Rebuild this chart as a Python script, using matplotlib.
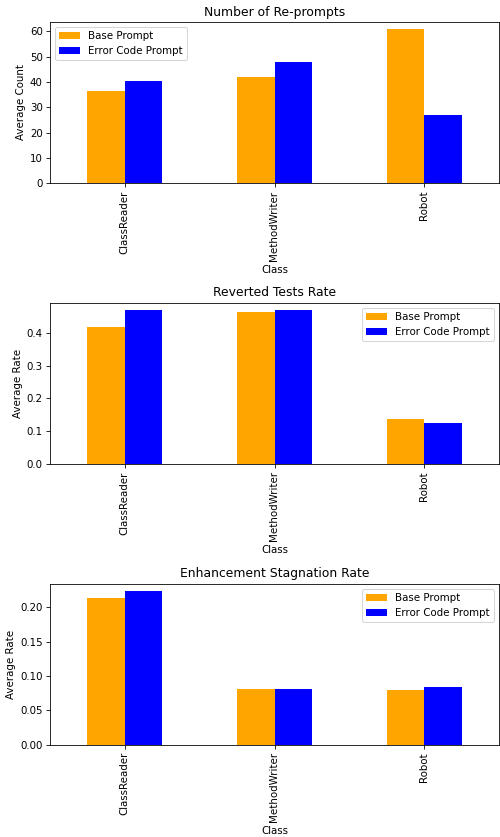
import pandas as pd
import matplotlib
matplotlib.use("Agg")
import matplotlib.pyplot as plt

classes = ["ClassReader", "MethodWriter", "Robot"]
series_names = ["Base Prompt", "Error Code Prompt"]

# average values per class, base prompt vs error code prompt
reprompts_base = [36.3, 42.1, 60.8]
reprompts_error = [40.6, 48.0, 26.8]

reverted_base = [0.416, 0.464, 0.138]
reverted_error = [0.468, 0.468, 0.126]

stagnation_base = [0.2136, 0.0814, 0.0799]
stagnation_error = [0.2232, 0.0814, 0.0843]

colors = ["orange", "blue"]

panels = [
    ("Number of Re-prompts", "Average Count", reprompts_base, reprompts_error, "upper left"),
    ("Reverted Tests Rate", "Average Rate", reverted_base, reverted_error, "upper right"),
    ("Enhancement Stagnation Rate", "Average Rate", stagnation_base, stagnation_error, "upper right"),
]

DPI = 74
fig, axes = plt.subplots(3, 1, figsize=(500 / DPI, 837 / DPI), dpi=DPI)

for ax, (title, ylabel, base, error, loc) in zip(axes, panels):
    df = pd.DataFrame({series_names[0]: base, series_names[1]: error}, index=classes)
    df.plot(kind="bar", ax=ax, color=colors)
    ax.set_title(title)
    ax.set_xlabel("Class")
    ax.set_ylabel(ylabel)
    ax.legend(loc=loc)

fig.subplots_adjust(left=0.1, right=0.998, top=0.974, bottom=0.110, hspace=0.74)
fig.savefig("out.png", dpi=DPI)
